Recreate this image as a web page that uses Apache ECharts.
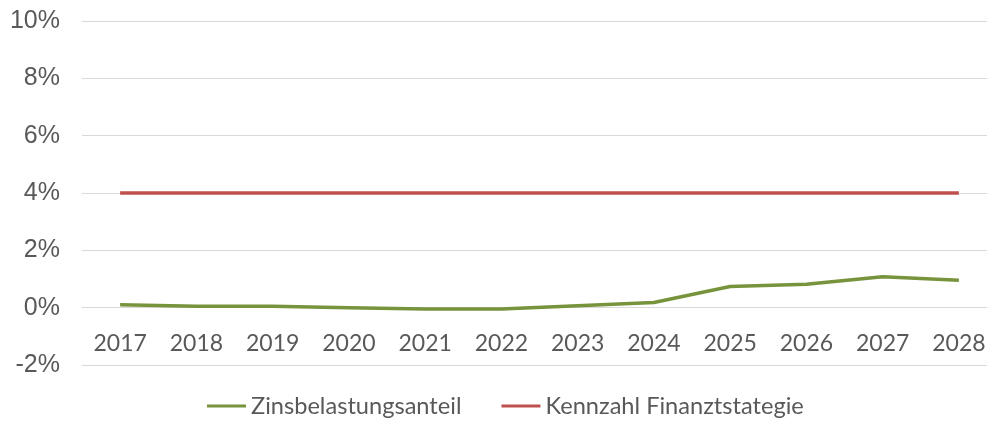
<!DOCTYPE html>
<html>
<head>
<meta charset="utf-8">
<script src="https://cdn.jsdelivr.net/npm/echarts@6/dist/echarts.min.js"></script>
<style>
html,body{margin:0;padding:0;background:#fff;}
#chart{width:987px;height:423px;}
</style>
</head>
<body>
<div id="chart"></div>
<script>
var categories = ['2017','2018','2019','2020','2021','2022','2023','2024','2025','2026','2027','2028'];
var zinsbelastung = [0.10, 0.05, 0.05, 0.00, -0.05, -0.05, 0.07, 0.18, 0.74, 0.82, 1.08, 0.96];
var kennzahl = [4, 4, 4, 4, 4, 4, 4, 4, 4, 4, 4, 4];
var yTicks = {min: -2, max: 10, interval: 2};

var chart = echarts.init(document.getElementById('chart'));
chart.setOption({
  animation: false,
  backgroundColor: '#ffffff',
  grid: {left: 82, right: -10, top: 21, bottom: 58, containLabel: false, outerBoundsMode: 'none'},
  legend: {
    bottom: 0,
    left: 202,
    itemWidth: 39,
    itemHeight: 3,
    itemGap: 40,
    icon: 'rect',
    textStyle: {fontFamily: 'Lato', fontSize: 23.6, color: '#595959'},
    data: ['Zinsbelastungsanteil', 'Kennzahl Finanztstategie']
  },
  xAxis: {
    type: 'category',
    data: categories,
    boundaryGap: true,
    offset: -57.5,
    axisLine: {show: true, onZero: false, lineStyle: {color: '#d9d9d9', width: 1}},
    axisTick: {show: false},
    axisLabel: {margin: 25, fontFamily: 'Lato', fontSize: 23, color: '#595959'},
    splitLine: {show: false}
  },
  yAxis: {
    type: 'value',
    min: yTicks.min,
    max: yTicks.max,
    interval: yTicks.interval,
    axisLine: {show: false},
    axisTick: {show: false},
    axisLabel: {margin: 22, fontFamily: 'Liberation Sans', fontSize: 25, color: '#595959', formatter: '{value}%'},
    splitLine: {lineStyle: {color: '#d9d9d9', width: 1}}
  },
  series: [
    {
      name: 'Zinsbelastungsanteil',
      type: 'line',
      data: zinsbelastung,
      showSymbol: false,
      symbol: 'none',
      lineStyle: {color: '#77933c', width: 3.5},
      itemStyle: {color: '#77933c'}
    },
    {
      name: 'Kennzahl Finanztstategie',
      type: 'line',
      data: kennzahl,
      showSymbol: false,
      symbol: 'none',
      lineStyle: {color: '#c0504d', width: 3.5},
      itemStyle: {color: '#c0504d'}
    }
  ]
});
</script>
</body>
</html>
